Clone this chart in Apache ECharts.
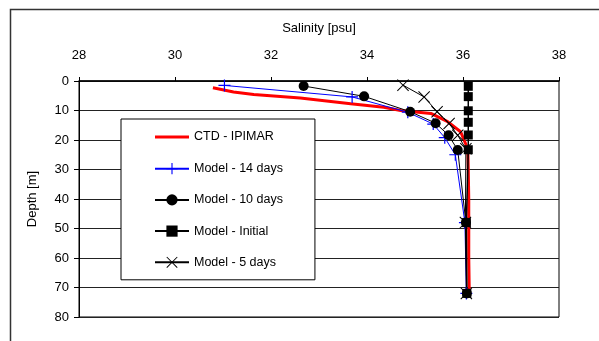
<!DOCTYPE html>
<html>
<head>
<meta charset="utf-8">
<script src="https://cdn.jsdelivr.net/npm/echarts@6/dist/echarts.min.js"></script>
<style>html,body{margin:0;padding:0;background:#fff;}#c{width:599px;height:341px;}</style>
</head>
<body>
<div id="c"></div>
<script>
// Salinity [psu] vs Depth [m]
const xTicks = [28, 30, 32, 34, 36, 38];
const yTicks = [0, 10, 20, 30, 40, 50, 60, 70, 80];
const seriesNames = ['CTD - IPIMAR', 'Model - 14 days', 'Model - 10 days', 'Model - Initial', 'Model - 5 days'];

const ctdSal   = [30.79, 31.22, 31.64, 32.61, 33.66, 34.35, 34.70, 35.33, 35.68, 35.95, 36.10, 36.11, 36.12, 36.12, 36.12, 36.13];
const ctdDepth = [2.3, 3.7, 4.6, 5.8, 7.7, 8.9, 10.0, 11.0, 13.8, 17.2, 23.0, 30, 40, 50, 60, 71];

const m14Sal   = [31.03, 33.69, 34.85, 35.38, 35.62, 35.84, 36.04, 36.07];
const m14Depth = [1.5, 5.4, 10.6, 14.6, 19.2, 25.0, 48, 72];

const m10Sal   = [32.68, 33.94, 34.90, 35.43, 35.70, 35.89, 36.06, 36.08];
const m10Depth = [1.7, 5.2, 10.4, 14.3, 18.4, 23.4, 48, 72];

const mInitSal   = [36.11, 36.11, 36.11, 36.11, 36.11, 36.11, 36.07, 36.08];
const mInitDepth = [1.8, 5.3, 10.1, 14.0, 18.3, 23.3, 48, 72];

const m5Sal   = [34.75, 35.19, 35.46, 35.71, 35.89, 36.06, 36.05, 36.07];
const m5Depth = [1.4, 5.4, 10.4, 14.4, 18.4, 23.0, 48, 72];

function pairs(xs, ys) { return xs.map((v, i) => [v, ys[i]]); }

const plusPath = 'path://M0,4.5 H10 V5.5 H0 Z M4.5,0 H5.5 V10 H4.5 Z';
const crossPath = 'path://M0,0.6 L0.6,0 L10,9.4 L9.4,10 Z M9.4,0 L10,0.6 L0.6,10 L0,9.4 Z';
const thickLineIcon = 'path://M0,0 L34,0 L34,0.001 Z M0,5.5 H34 V8.5 H0 Z M0,14 L34,14 L34,13.999 Z';

const chart = echarts.init(document.getElementById('c'), null, {renderer: 'canvas'});
const font = 'Arial, "Liberation Sans", sans-serif';

chart.setOption({
  animation: false,
  backgroundColor: '#fff',
  textStyle: {fontFamily: font, color: '#000'},
  graphic: [{
    type: 'rect', left: 8, top: 7, z: -10,
    shape: {x: 0, y: 0, width: 620, height: 420},
    style: {fill: 'none', stroke: '#333', lineWidth: 1.5}
  }],
  grid: {left: 79, right: 40, top: 81, bottom: 24, show: true, borderColor: '#000', borderWidth: 1, backgroundColor: 'transparent'},
  legend: {
    orient: 'vertical', left: 121, top: 119,
    data: [
      {name: seriesNames[0], icon: thickLineIcon, itemStyle: {color: '#ff0000'}},
      seriesNames[1], seriesNames[2], seriesNames[3], seriesNames[4]
    ],
    backgroundColor: '#fff', borderColor: '#000', borderWidth: 1, borderRadius: 0,
    padding: [11, 32, 11, 33],
    itemWidth: 34, itemHeight: 14, itemGap: 18.2,
    textStyle: {fontFamily: font, fontSize: 12.5, color: '#000'}
  },
  xAxis: {
    type: 'value', position: 'top', min: 28, max: 38, interval: 2,
    name: 'Salinity [psu]', nameLocation: 'middle', nameGap: 46,
    nameTextStyle: {fontFamily: font, fontSize: 13, color: '#000'},
    axisLine: {show: true, lineStyle: {color: '#000', width: 1.5}},
    axisTick: {show: true, length: 4, lineStyle: {color: '#000'}},
    axisLabel: {fontFamily: font, fontSize: 13, color: '#000', margin: 19, formatter: v => xTicks.includes(v) ? String(v) : ''},
    splitLine: {show: false}
  },
  yAxis: {
    type: 'value', inverse: true, min: 0, max: 80, interval: 10,
    name: 'Depth [m]', nameLocation: 'middle', nameGap: 40, nameRotate: 90,
    nameTextStyle: {fontFamily: font, fontSize: 13, color: '#000'},
    axisLine: {show: true, lineStyle: {color: '#000', width: 1}},
    axisTick: {show: true, length: 5, lineStyle: {color: '#000'}},
    axisLabel: {fontFamily: font, fontSize: 13, color: '#000', margin: 10, formatter: v => yTicks.includes(v) ? String(v) : ''},
    splitLine: {show: true, lineStyle: {color: '#222', width: 1}}
  },
  series: [
    {name: seriesNames[0], type: 'line', data: pairs(ctdSal, ctdDepth), symbol: 'none',
     lineStyle: {color: '#ff0000', width: 3}, itemStyle: {color: '#ff0000'}},
    {name: seriesNames[1], type: 'line', data: pairs(m14Sal, m14Depth), symbol: plusPath, symbolSize: 12,
     lineStyle: {color: '#0000ff', width: 1}, itemStyle: {color: '#0000ff'}},
    {name: seriesNames[2], type: 'line', data: pairs(m10Sal, m10Depth), symbol: 'circle', symbolSize: 10,
     lineStyle: {color: '#000', width: 1}, itemStyle: {color: '#000'}},
    {name: seriesNames[3], type: 'line', data: pairs(mInitSal, mInitDepth), symbol: 'rect', symbolSize: 9,
     lineStyle: {color: '#000', width: 1.5}, itemStyle: {color: '#000'}},
    {name: seriesNames[4], type: 'line', data: pairs(m5Sal, m5Depth), symbol: crossPath, symbolSize: 12,
     lineStyle: {color: '#000', width: 1}, itemStyle: {color: '#000'}}
  ]
});
</script>
</body>
</html>
